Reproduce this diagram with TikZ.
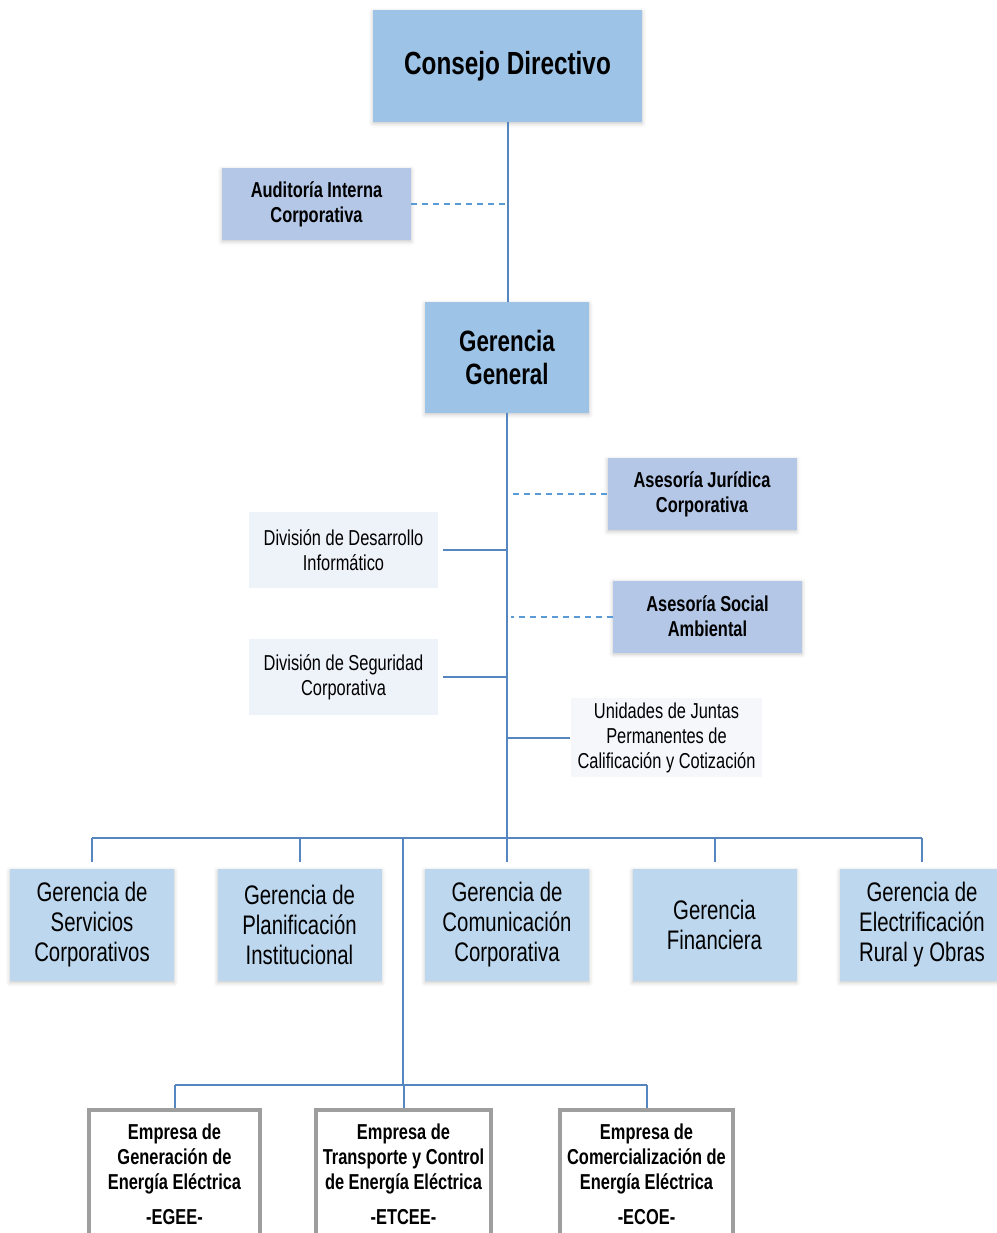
\documentclass[tikz,border=0pt]{standalone}
\usepackage{fontspec}
\setmainfont{Liberation Sans}[FakeStretch=0.76]
\usepackage{tikz}
\usetikzlibrary{positioning,shadows.blur}
\definecolor{headblue}{HTML}{9DC3E6}
\definecolor{staffblue}{HTML}{B4C7E7}
\definecolor{mgrblue}{HTML}{BDD7EE}
\definecolor{divgray}{HTML}{EEF2F9}
\definecolor{linkblue}{HTML}{5686C0}
\definecolor{dashblue}{HTML}{5B9BD5}
\tikzset{soft shadow/.style={blur shadow={shadow xshift=0pt, shadow yshift=-0.8pt, shadow blur radius=2pt, shadow opacity=22}}}
\tikzset{top box/.style={rectangle, fill=headblue, align=center, soft shadow}}
\tikzset{staff box/.style={rectangle, fill=staffblue, align=center, minimum width=94.5pt, minimum height=36pt, font=\bfseries\fontsize{10.8}{12.5}\selectfont, soft shadow}}
\tikzset{unit box/.style={rectangle, fill=divgray, align=center, minimum width=94.5pt, minimum height=38pt, font=\fontsize{10.8}{12.5}\selectfont}}
\tikzset{branch box/.style={rectangle, fill=mgrblue, align=center, minimum width=82pt, minimum height=56pt, font=\fontsize{13.4}{15}\selectfont, soft shadow}}
\tikzset{company box/.style={rectangle, draw=black!38, line width=2pt, fill=white, anchor=north, align=center, minimum width=85.5pt, inner ysep=7pt, font=\bfseries\fontsize{10.8}{12.5}\selectfont}}
\tikzset{link/.style={draw=linkblue, line width=1pt}}
\tikzset{staff link/.style={draw=dashblue, line width=1pt, dash pattern=on 3pt off 2.5pt}}

\begin{document}
\begin{tikzpicture}[x=0.5pt, y=-0.5pt, node distance=103.75pt]
\useasboundingbox (0,0) rectangle (997,1233);
\clip (0,0) rectangle (997,1233);
\node[top box, minimum width=134.5pt, minimum height=56pt, font=\bfseries\fontsize{16}{19}\selectfont] (cd) at (507.5,66) {Consejo Directivo};
\node[top box, minimum width=82pt, minimum height=55.5pt, font=\bfseries\fontsize{14.7}{16.5}\selectfont] (gg) at (507,357.5) {Gerencia\\General};
\node[staff box] (aic) at (316.5,204) {Auditoría Interna\\Corporativa};
\node[staff box] (asj) at (702,494) {Asesoría Jurídica\\Corporativa};
\node[staff box] (asa) at (707.5,616.5) {Asesoría Social\\Ambiental};
\node[unit box] (ddi) at (343.5,550) {División de Desarrollo\\Informático};
\node[unit box] (dsc) at (343.5,677) {División de Seguridad\\Corporativa};
\node[unit box, minimum width=95.5pt, minimum height=39.5pt, inner ysep=1pt, fill=divgray!60] (ujp) at (666.5,737.5) {Unidades de Juntas\\Permanentes de\\Calificación y Cotización};
\node[branch box] (gsc) at (92,925) {Gerencia de\\Servicios\\Corporativos};
\node[branch box, right of=gsc] (gpi) {Gerencia de\\Planificación\\Institucional};
\node[branch box, right of=gpi] (gcc) {Gerencia de\\Comunicación\\Corporativa};
\node[branch box, right of=gcc] (gfi) {Gerencia\\Financiera};
\node[branch box, right of=gfi] (ger) {Gerencia de\\Electrificación\\Rural y Obras};
\node[company box] (egee) at (174.5,1108) {Empresa de\\Generación de\\Energía Eléctrica\\[5pt]-EGEE-};
\node[company box] (etcee) at (403.5,1108) {Empresa de\\Transporte y Control\\de Energía Eléctrica\\[5pt]-ETCEE-};
\node[company box] (ecoe) at (646.5,1108) {Empresa de\\Comercialización de\\Energía Eléctrica\\[5pt]-ECOE-};
\coordinate (hub) at (507,838);
\coordinate (split) at (403,838);
\coordinate (ebar) at (403,1085);
\draw[link] (cd.south) -- (cd.south |- gg.north);
\draw[staff link] (aic.east) -- (aic.east -| cd.south);
\draw[link] (gg.south) -- (gg.south |- hub);
\draw[staff link] (asj.west) -- ([xshift=1pt]asj.west -| gg.south);
\draw[staff link] (asa.west) -- ([xshift=2pt]asa.west -| gg.south);
\draw[link] ([xshift=2.5pt]ddi.east) -- (ddi.east -| gg.south);
\draw[link] ([xshift=2.5pt]dsc.east) -- (dsc.east -| gg.south);
\draw[link] (ujp.west) -- (ujp.west -| gg.south);
\draw[link] (hub -| gsc) -- (hub -| ger);
\foreach \g in {gsc,gpi,gcc,gfi,ger}
  \draw[link] (hub -| \g) -- ([yshift=3.5pt]\g.north);
\draw[link] (split) -- (ebar);
\draw[link] (ebar -| egee) -- (ebar -| ecoe);
\foreach \e in {egee,etcee,ecoe}
  \draw[link] (ebar -| \e) -- (\e.north);
\end{tikzpicture}
\end{document}
